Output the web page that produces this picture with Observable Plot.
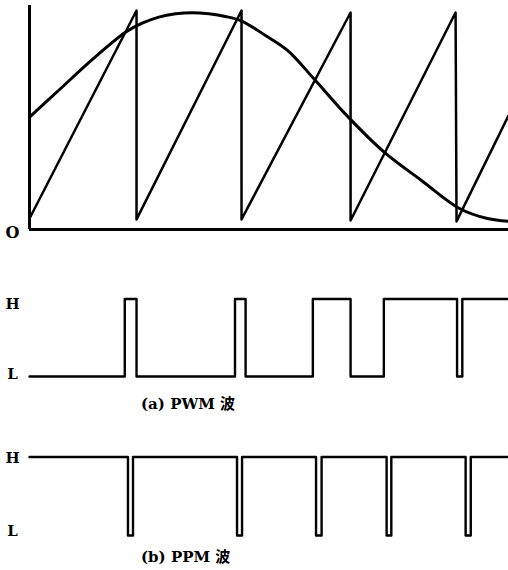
<!DOCTYPE html>
<html>
<head>
<meta charset="utf-8">
<script src="https://cdn.jsdelivr.net/npm/d3@7"></script>
<script src="https://cdn.jsdelivr.net/npm/@observablehq/plot@0.6"></script>
<style>
  html, body { margin: 0; padding: 0; background: #fff; }
  #chart { width: 508px; }
  #chart svg { display: block; }
  .cap { font: bold 15px "DejaVu Serif", "Noto Sans CJK SC", serif; color: #000; padding-left: 141px; white-space: nowrap; }
  #capA { height: 28px; line-height: 28px; }
  #capB { height: 25px; line-height: 25px; }
</style>
</head>
<body>
<div id="chart">
  <div id="panelTop"></div>
  <div id="panelPwm"></div>
  <div id="capA" class="cap"></div>
  <div id="panelPpm"></div>
  <div id="capB" class="cap"></div>
</div>
<script>
// ---- data (time in carrier periods, amplitude in %) ----
const sawT = [0, 1.001, 1.001, 1.983, 1.983, 3.003, 3.003, 3.985, 3.994, 4.48];
const sawV = [5.0, 100, 4.6, 100, 4.6, 99.1, 4.1, 99.1, 3.7, 52];

const curveT = [0, 0.274, 0.586, 0.898, 1.054, 1.209, 1.366, 1.522, 1.677, 1.833, 1.990, 2.207, 2.413, 2.666, 2.984, 3.320, 3.666, 4.022, 4.283, 4.48];
const curveV = [51.3, 63.6, 77.6, 90.1, 94.2, 97.0, 98.5, 99.0, 98.5, 97.3, 95.1, 88.6, 81.8, 68.5, 51.2, 35.2, 22.4, 9.6, 5.0, 3.7];

const pwmT = [0, 0.891, 1.001, 1.922, 2.021, 2.650, 3.003, 3.314, 3.999, 4.048, 4.47];
const pwmLevel = [0, 1, 0, 1, 0, 1, 0, 1, 0, 1, 1];

const ppmT = [0, 0.921, 0.968, 1.941, 1.988, 2.680, 2.732, 3.340, 3.384, 4.079, 4.127, 4.47];
const ppmLevel = [1, 0, 1, 0, 1, 0, 1, 0, 1, 0, 1, 1];

const levelLabels = ["L", "H"];
const originLabel = "O";
const captions = ["(a) PWM 波", "(b) PPM 波"];

const xDomain = [0, 4.48];
const font = "DejaVu Serif";

const saw = sawT.map((t, i) => ({t, v: sawV[i]}));
const sine = curveT.map((t, i) => ({t, v: curveV[i]}));
const pwm = pwmT.map((t, i) => ({t, v: pwmLevel[i]}));
const ppm = ppmT.map((t, i) => ({t, v: ppmLevel[i]}));

const textStyle = {fontFamily: font, fontWeight: "bold", fontSize: 15, fill: "#000"};

const topPlot = Plot.plot({
  width: 508, height: 246,
  marginLeft: 29, marginRight: 0, marginTop: 5, marginBottom: 17,
  x: {domain: xDomain, axis: null},
  y: {domain: [0, 102.3], axis: null},
  marks: [
    Plot.ruleX([0], {stroke: "#000", strokeWidth: 3}),
    Plot.ruleY([0], {stroke: "#000", strokeWidth: 3}),
    Plot.line(saw, {x: "t", y: "v", stroke: "#000", strokeWidth: 2.5}),
    Plot.line(sine, {x: "t", y: "v", stroke: "#000", strokeWidth: 3, curve: "catmull-rom"}),
    Plot.text([originLabel], {x: [0], y: [0], text: d => d, dx: -17, dy: 3, ...textStyle, fontSize: 16})
  ]
});

function levelPlot(data, height, mt, mb, dyH, dyL) {
  return Plot.plot({
    width: 508, height,
    marginLeft: 29, marginRight: 0, marginTop: mt, marginBottom: mb,
    x: {domain: xDomain, axis: null},
    y: {domain: [0, 1], axis: null},
    marks: [
      Plot.line(data, {x: "t", y: "v", curve: "step-after", stroke: "#000", strokeWidth: 2.4}),
      Plot.text([levelLabels[1]], {x: [0], y: [1], text: d => d, dx: -17, dy: dyH, ...textStyle}),
      Plot.text([levelLabels[0]], {x: [0], y: [0], text: d => d, dx: -17, dy: dyL, ...textStyle})
    ]
  });
}

document.getElementById("panelTop").append(topPlot);
document.getElementById("panelPwm").append(levelPlot(pwm, 144, 52.5, 14, 5, -2));
document.getElementById("capA").textContent = captions[0];
document.getElementById("panelPpm").append(levelPlot(ppm, 127, 38.5, 10, 1, -4));
document.getElementById("capB").textContent = captions[1];
</script>
</body>
</html>
